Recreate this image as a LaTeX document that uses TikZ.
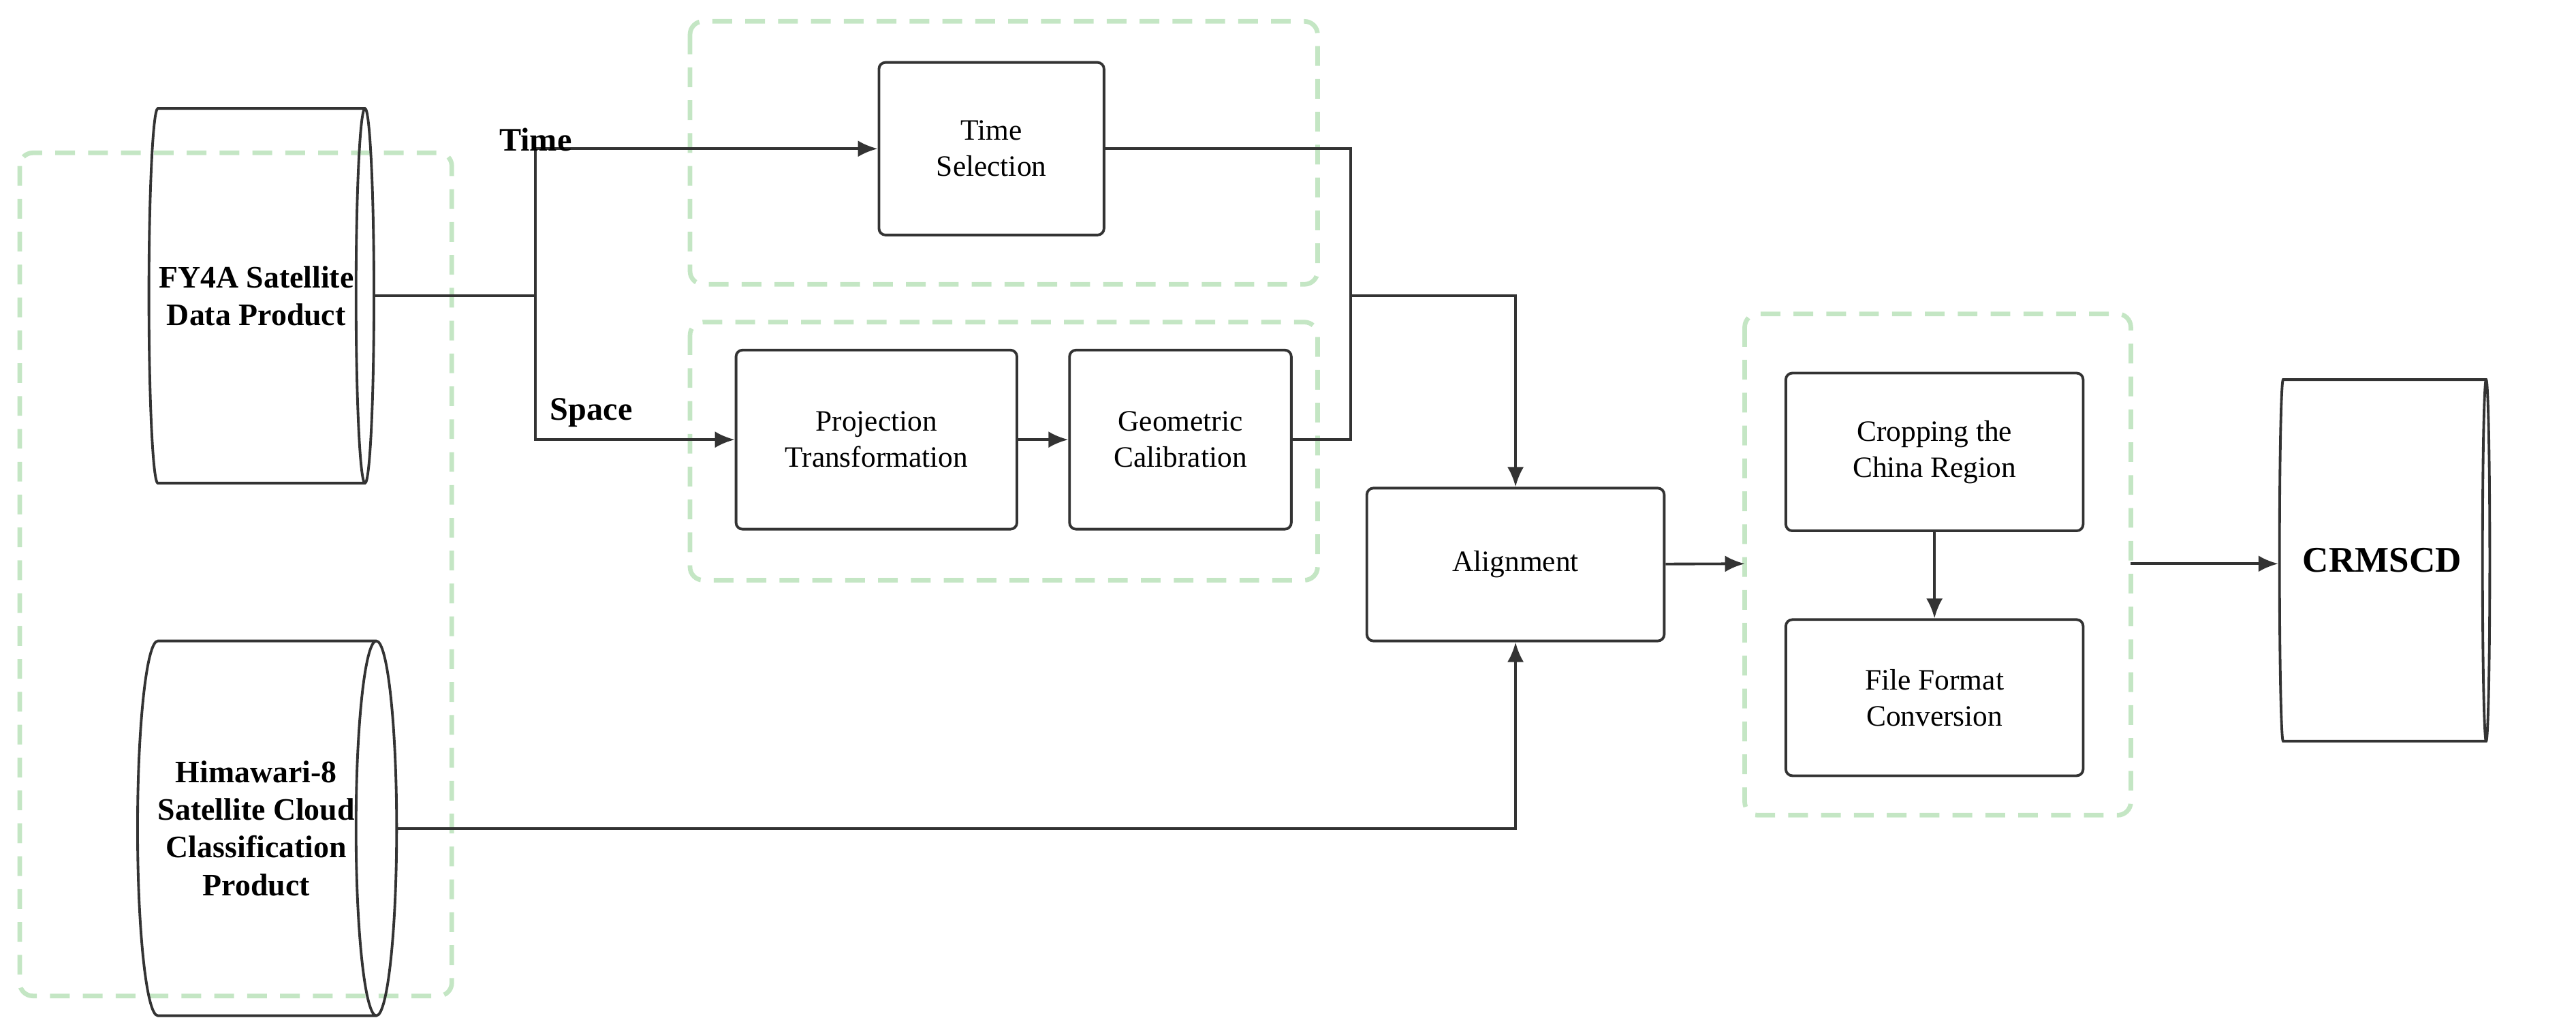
\documentclass[tikz,border=0pt]{standalone}
\usepackage{fontspec}
\setmainfont{Liberation Serif}
\usetikzlibrary{shapes.geometric, positioning, arrows.meta}
\definecolor{linegray}{HTML}{333333}
\definecolor{dashgreen}{HTML}{C4E6C4}

\begin{document}
\begin{tikzpicture} [x=0.5pt, y=-0.5pt,
            box/.style = {draw=linegray, thick, rounded corners=2pt, align=center,
                font=\fontsize{9}{11}\selectfont, inner sep=0pt},
            db/.style = {draw=linegray, thick, cylinder, shape aspect=0.3,
                align=center, font=\bfseries\fontsize{9.5}{11.5}\selectfont, inner sep=0pt},
            group/.style = {draw=dashgreen, line width=1.4pt, dash pattern=on 6pt off 4pt,
                rounded corners=4pt},
            flow/.style = {draw=linegray, thick, -{Latex[length=6pt, width=5pt]}},
            link/.style = {draw=linegray, thick}]

            \useasboundingbox (0,0) rectangle (1568,619);

            % Groups
            \draw [group] (12,93) rectangle (275,606);
            \draw [group] (420,13) rectangle (802,173);
            \draw [group] (420,196) rectangle (802,353);
            \draw [group] (1062,191) rectangle (1297,496);

            % Data sources
            \node (fy4a) [db, minimum width=114pt, minimum height=68.5pt]
                at (156,180) {FY4A Satellite\\Data Product};
            \node (hima) [db, minimum width=114pt, minimum height=68.5pt]
                at (156,504) {Himawari-8\\Satellite Cloud\\Classification\\Product};
            \node (crmscd) [db, minimum width=110pt, minimum height=64pt,
                font=\bfseries\fontsize{11}{13}\selectfont]
                at (1450,341) {CRMSCD};

            % Steps
            \node (time) [box, minimum width=68.5pt, minimum height=52.5pt]
                at (603.5,90.5) {Time\\Selection};
            \node (proj) [box, minimum width=85.5pt, minimum height=54.5pt]
                at (533.5,267.5) {Projection\\Transformation};
            \node (geom) [box, minimum width=67.5pt, minimum height=54.5pt]
                at (718.5,267.5) {Geometric\\Calibration};
            \node (align) [box, minimum width=90.5pt, minimum height=46.5pt]
                at (922.5,343.5) {Alignment};
            \node (crop) [box, minimum width=90.5pt, minimum height=48pt]
                at (1177.5,275) {Cropping the\\China Region};
            \node (conv) [box, minimum width=90.5pt, minimum height=47.5pt]
                at (1177.5,424.5) {File Format\\Conversion};

            % Junctions
            \coordinate (split) at (326,180);
            \coordinate (merge) at (822,180);
            \coordinate (gin) at (1062,343);

            % Arrows
            \draw [link] (fy4a.east |- split) -- (split);
            \draw [flow] (split) |- node [pos=0.45, above, font=\bfseries\fontsize{10}{12}\selectfont] {Time} (time.west);
            \draw [flow] (split) |- node [pos=0.64, above, font=\bfseries\fontsize{10}{12}\selectfont] {Space} (proj.west);
            \draw [flow] (proj) -- (geom);
            \draw [link] (time.east) -| (merge);
            \draw [link] (geom.east) -| (merge);
            \draw [flow] (merge) -| (align.north);
            \draw [flow] (hima.east |- 0,504) -| (align.south);
            \draw [flow] (align) -- (gin);
            \draw [flow] (crop) -- (conv);
            \draw [flow] (1297,343) -- (crmscd.west |- 0,343);
\end{tikzpicture}
\end{document}
